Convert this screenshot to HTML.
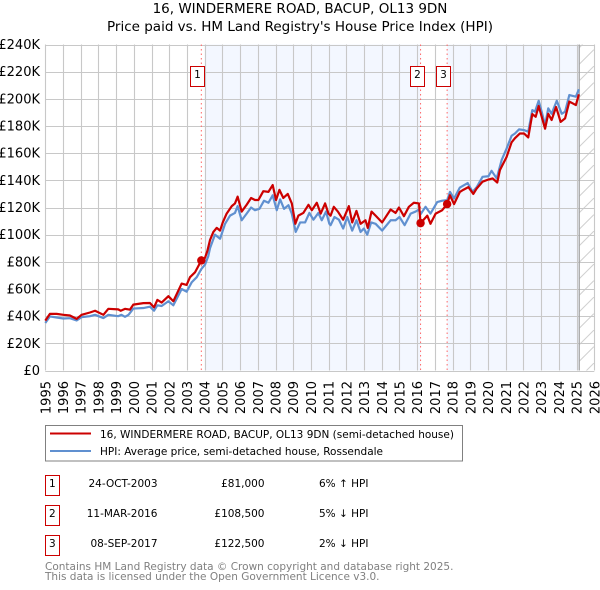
<!DOCTYPE html>
<html lang="en">
<head>
<meta charset="utf-8">
<title>16, WINDERMERE ROAD, BACUP, OL13 9DN</title>
<style>
html,body{margin:0;padding:0;background:#fff;width:600px;height:590px;overflow:hidden}
svg{display:block}
text{font-family:"DejaVu Sans","Liberation Sans",sans-serif;fill:#000}
</style>
</head>
<body>
<svg id="chart" width="600" height="590" viewBox="0 0 600 590" xmlns="http://www.w3.org/2000/svg">
  <defs>
    <pattern id="hatch" patternUnits="userSpaceOnUse" width="16.5" height="16.5">
      <line x1="0" y1="16.5" x2="16.5" y2="0" stroke="#d0d0d0" stroke-width="1"/>
    </pattern>
  </defs>
  <text x="300" y="13" font-size="13.5" text-anchor="middle">16, WINDERMERE ROAD, BACUP, OL13 9DN</text>
  <text x="300" y="31" font-size="13.5" text-anchor="middle">Price paid vs. HM Land Registry's House Price Index (HPI)</text>
  <g id="plot"></g>

  <g>
    <rect x="45.5" y="425.5" width="417" height="35.5" fill="#fff" stroke="#808080" stroke-width="1"/>
    <line x1="50" x2="91" y1="433.5" y2="433.5" stroke="#cc0000" stroke-width="2"/>
    <text x="100" y="438" font-size="10.5">16, WINDERMERE ROAD, BACUP, OL13 9DN (semi-detached house)</text>
    <line x1="50" x2="91" y1="451" y2="451" stroke="#6090d0" stroke-width="2"/>
    <text x="100" y="455" font-size="10.5">HPI: Average price, semi-detached house, Rossendale</text>
  </g>

  <g>
    <rect x="45.5" y="475.5" width="14" height="20" fill="#fff" stroke="#cc0000" stroke-width="1"/>
    <text x="52.3" y="487" font-size="10.5" text-anchor="middle">1</text>
    <text x="157.5" y="487" font-size="10.5" text-anchor="end">24-OCT-2003</text>
    <text x="264.5" y="487" font-size="10.5" text-anchor="end">£81,000</text>
    <text x="319" y="487" font-size="10.5">6% ↑ HPI</text>
  </g>
  <g>
    <rect x="45.5" y="505.5" width="14" height="20" fill="#fff" stroke="#cc0000" stroke-width="1"/>
    <text x="52.3" y="517" font-size="10.5" text-anchor="middle">2</text>
    <text x="157.5" y="517" font-size="10.5" text-anchor="end">11-MAR-2016</text>
    <text x="264.5" y="517" font-size="10.5" text-anchor="end">£108,500</text>
    <text x="319" y="517" font-size="10.5">5% ↓ HPI</text>
  </g>
  <g>
    <rect x="45.5" y="535.5" width="14" height="20" fill="#fff" stroke="#cc0000" stroke-width="1"/>
    <text x="52.3" y="547" font-size="10.5" text-anchor="middle">3</text>
    <text x="157.5" y="547" font-size="10.5" text-anchor="end">08-SEP-2017</text>
    <text x="264.5" y="547" font-size="10.5" text-anchor="end">£122,500</text>
    <text x="319" y="547" font-size="10.5">2% ↓ HPI</text>
  </g>

  <text x="45" y="570" font-size="10.5" style="fill:#808080">Contains HM Land Registry data © Crown copyright and database right 2025.</text>
  <text x="45" y="580" font-size="10.5" style="fill:#808080">This data is licensed under the Open Government Licence v3.0.</text>
</svg>
<script>
var yTickValues = [0, 20, 40, 60, 80, 100, 120, 140, 160, 180, 200, 220, 240];
var yTickLabels = ['£0', '£20K', '£40K', '£60K', '£80K', '£100K', '£120K', '£140K', '£160K', '£180K', '£200K', '£220K', '£240K'];
var xTickYears = [1995, 1996, 1997, 1998, 1999, 2000, 2001, 2002, 2003, 2004, 2005, 2006, 2007, 2008, 2009, 2010, 2011, 2012, 2013, 2014, 2015, 2016, 2017, 2018, 2019, 2020, 2021, 2022, 2023, 2024, 2025, 2026];

var priceYears = [1995, 1995.26, 1995.64, 1996.02, 1996.39, 1996.77, 1997.05, 1997.52, 1997.81, 1998.28, 1998.56, 1999.12, 1999.26, 1999.5, 1999.78, 1999.97, 2000.54, 2000.91, 2001.14, 2001.33, 2001.57, 2001.95, 2002.23, 2002.7, 2002.98, 2003.17, 2003.46, 2003.81, 2004.02, 2004.15, 2004.3, 2004.49, 2004.68, 2004.87, 2005.02, 2005.24, 2005.53, 2005.71, 2005.86, 2006.09, 2006.37, 2006.62, 2006.84, 2007.03, 2007.31, 2007.6, 2007.84, 2008.03, 2008.22, 2008.44, 2008.69, 2008.92, 2009.12, 2009.29, 2009.57, 2009.86, 2010.05, 2010.33, 2010.55, 2010.8, 2010.99, 2011.11, 2011.29, 2011.52, 2011.82, 2012.14, 2012.33, 2012.57, 2012.8, 2013.08, 2013.21, 2013.42, 2013.65, 2014.02, 2014.5, 2014.78, 2014.97, 2015.25, 2015.53, 2015.81, 2016.1, 2016.19, 2016.57, 2016.75, 2017.04, 2017.41, 2017.69, 2017.85, 2018.08, 2018.41, 2018.6, 2018.89, 2019.17, 2019.36, 2019.69, 2020.02, 2020.26, 2020.52, 2020.67, 2021.05, 2021.33, 2021.52, 2021.8, 2022.03, 2022.27, 2022.5, 2022.69, 2022.86, 2023.03, 2023.22, 2023.4, 2023.59, 2023.84, 2024.1, 2024.35, 2024.59, 2024.96, 2025.13];
var priceValues = [36.7, 41.7, 41.7, 41, 40.5, 38, 41, 42.7, 44, 41, 45.4, 45, 44, 45.4, 44.8, 48.5, 49.6, 49.7, 46.5, 52, 50, 54.7, 51, 64, 63, 68.7, 72.4, 81, 83, 88, 96, 102, 105, 103, 109, 115.5, 121, 123, 128, 117, 122, 127, 125.5, 125.5, 132, 131.5, 136.5, 125.5, 133, 127, 130, 123, 108, 114, 116, 122, 118, 123.5, 115.5, 123, 115.5, 114, 120.5, 117, 111, 121, 109, 117.5, 108, 110.6, 105, 117, 114, 109, 118.5, 116, 120, 113.6, 120.5, 123.5, 123, 108.5, 114, 108, 115.5, 118, 122.5, 129, 122.5, 131.5, 133, 135, 130, 134, 139, 140.6, 141.4, 138.4, 147.5, 157.3, 168, 171, 174.5, 174.5, 171.6, 188.8, 186.8, 194.7, 186.8, 178, 189, 184.4, 194, 183, 185.6, 198, 195.4, 203.3];

var hpiYears = [1995, 1995.26, 1995.64, 1996.02, 1996.39, 1996.77, 1997.05, 1997.52, 1997.81, 1998.28, 1998.56, 1999.12, 1999.3, 1999.5, 1999.7, 1999.97, 2000.54, 2000.91, 2001.14, 2001.33, 2001.57, 2001.95, 2002.23, 2002.7, 2002.98, 2003.27, 2003.55, 2003.81, 2004.02, 2004.2, 2004.3, 2004.58, 2004.87, 2005.15, 2005.43, 2005.71, 2005.86, 2006.09, 2006.37, 2006.62, 2006.84, 2007.09, 2007.35, 2007.6, 2007.84, 2008.07, 2008.26, 2008.48, 2008.73, 2008.92, 2009.14, 2009.39, 2009.67, 2009.91, 2010.14, 2010.42, 2010.61, 2010.85, 2011.04, 2011.11, 2011.33, 2011.58, 2011.82, 2012.05, 2012.33, 2012.57, 2012.8, 2012.99, 2013.18, 2013.4, 2013.65, 2014.02, 2014.5, 2014.78, 2015, 2015.29, 2015.63, 2015.91, 2016.1, 2016.19, 2016.47, 2016.75, 2017.13, 2017.41, 2017.7, 2017.85, 2018.08, 2018.41, 2018.85, 2019.13, 2019.36, 2019.69, 2020.02, 2020.2, 2020.49, 2020.77, 2021.05, 2021.33, 2021.52, 2021.75, 2022.03, 2022.27, 2022.5, 2022.65, 2022.86, 2023.03, 2023.22, 2023.4, 2023.59, 2023.88, 2024.16, 2024.35, 2024.59, 2024.96, 2025.13];
var hpiValues = [35, 39.8, 39, 38.3, 38.5, 36.8, 39.3, 40, 41, 38.6, 41, 40, 41, 39.5, 41, 45.6, 46, 47, 44, 48, 47.5, 51, 48, 60, 58, 65, 68.7, 74.7, 78, 84, 90, 100, 97, 108, 114, 116, 121, 110.6, 115.5, 120, 118, 119, 125, 123.5, 129, 118, 126, 119, 121.7, 115.5, 102, 109, 109, 116, 111, 116, 110.6, 117, 108, 107, 113, 111, 104.5, 113, 103, 110.6, 102, 104.5, 100, 109, 108, 103, 110.6, 110.6, 113, 107, 115.5, 117, 118.5, 115, 120.5, 115.5, 124, 125, 125.5, 131.5, 126.6, 134.7, 138, 131.5, 135, 142.6, 143, 147, 141.4, 155, 163.5, 172.8, 174.5, 177.5, 177, 175.8, 191.7, 190.5, 198.6, 190.5, 180.7, 193, 189, 198.6, 189, 190.5, 202.8, 201.6, 207];

var saleYears = [2003.81, 2016.19, 2017.69];
var salePrices = [81, 108.5, 122.5];
var saleLabels = ['1', '2', '3'];

var xDomain = [1995, 2026];
var yDomain = [0, 240];
var forecastStartYear = 2025.15;
var shadeStartYear = 2004;

var SVGNS = 'http://www.w3.org/2000/svg';
var plotLeft = 45.3, plotRight = 594.3, plotBottom = 370.5, plotTop = 44.5;
var plot = document.getElementById('plot');

function xScale(year) {
  return plotLeft + (year - xDomain[0]) / (xDomain[1] - xDomain[0]) * (plotRight - plotLeft);
}
function yScale(value) {
  return plotBottom - (value - yDomain[0]) / (yDomain[1] - yDomain[0]) * (plotBottom - plotTop);
}
function make(tag, props) {
  var el = document.createElementNS(SVGNS, tag);
  for (var key in props) el.setAttribute(key, props[key]);
  plot.appendChild(el);
  return el;
}
function pointsFor(years, values) {
  return years.map(function (year, i) {
    return xScale(year).toFixed(2) + ',' + yScale(values[i]).toFixed(2);
  }).join(' ');
}

var shadeA = make('rect', {x: xScale(shadeStartYear), y: plotTop, width: xScale(saleYears[1]) - xScale(shadeStartYear), height: plotBottom - plotTop, fill: '#f3f7ff'});


var shadeB = make('rect', {x: xScale(saleYears[2]), y: plotTop, width: xScale(forecastStartYear) - xScale(saleYears[2]), height: plotBottom - plotTop, fill: '#f3f7ff'});


var hatch = make('rect', {x: xScale(forecastStartYear), y: plotTop, width: plotRight - xScale(forecastStartYear), height: plotBottom - plotTop, fill: 'url(#hatch)'});



yTickValues.forEach(function (value, i) {
  var y = Math.round(yScale(value)) + 0.5;
  var grid = make('line', {x1: plotLeft, x2: plotRight, y1: y, y2: y, stroke: '#c8c8c8', 'stroke-width': 1.1});
  
  
  var label = make('text', {x: 40, y: yScale(value) + 4.5, 'font-size': 13, 'text-anchor': 'end'});
  
  
  label.textContent = yTickLabels[i];
});

xTickYears.forEach(function (year) {
  var x = Math.round(xScale(year)) + 0.5;
  var grid = make('line', {x1: x, x2: x, y1: plotTop, y2: plotBottom, stroke: '#c8c8c8', 'stroke-width': 1.1});
  
  
  var label = make('text', {x: 0, y: 0, 'font-size': 13, 'text-anchor': 'end', transform: 'translate(' + (xScale(year) + 5) + ',381) rotate(-90)'});
  
  
  label.textContent = String(year);
});

var edge = make('line', {x1: xScale(forecastStartYear), x2: xScale(forecastStartYear), y1: plotTop, y2: plotBottom, stroke: '#a0a0a0', 'stroke-width': 1.2});



saleYears.forEach(function (year, i) {
  var x = xScale(year);
  var rule = make('line', {x1: x, x2: x, y1: plotTop, y2: plotBottom, stroke: '#ff6666', 'stroke-width': 1, 'stroke-dasharray': '1.5 3'});
  
  
});

var hpiLine = make('polyline', {points: pointsFor(hpiYears, hpiValues), fill: 'none', stroke: '#6090d0', 'stroke-width': 2.2, 'stroke-linejoin': 'round'});


var priceLine = make('polyline', {points: pointsFor(priceYears, priceValues), fill: 'none', stroke: '#cc0000', 'stroke-width': 2.2, 'stroke-linejoin': 'round'});



saleYears.forEach(function (year, i) {
  var dot = make('circle', {cx: xScale(year), cy: yScale(salePrices[i]), r: 4.2, fill: '#cc0000'});
  
  
  var bx = Math.round(xScale(year)) - 10.5;
  var box = make('rect', {x: bx, y: 66.5, width: 14, height: 20, fill: '#fff', stroke: '#cc0000', 'stroke-width': 1});
  
  
  var num = make('text', {x: bx + 7, y: 78, 'font-size': 10.5, 'text-anchor': 'middle'});
  
  
  num.textContent = saleLabels[i];
});
</script>
</body>
</html>
